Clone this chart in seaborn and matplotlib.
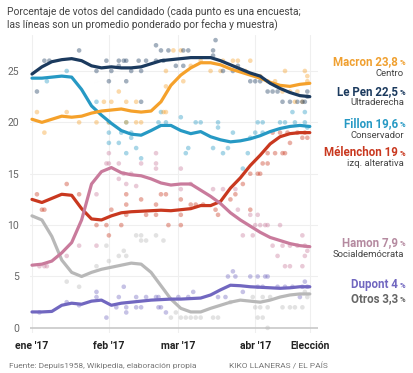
import pandas as pd
import matplotlib.pyplot as plt
import seaborn as sns

# -----------------------------
# Data (days since 1 Jan 2017, election = 23 Apr = day 112)
# -----------------------------
days = [0, 4, 8, 12, 16, 20, 24, 28, 32, 36, 40, 44, 48, 52, 56,
        60, 64, 68, 72, 76, 80, 84, 88, 92, 96, 100, 104, 108, 112]

lepen = [24.7, 25.4, 25.9, 26.1, 26.2, 26.0, 25.5, 25.3, 25.4, 25.3, 25.3, 25.4, 25.7, 26.0, 26.1,
         26.2, 26.3, 26.3, 26.3, 26.0, 25.6, 25.2, 24.8, 24.5, 23.8, 23.3, 22.9, 22.6, 22.5]
macron = [20.3, 20.0, 20.3, 20.6, 20.5, 20.6, 20.9, 21.1, 21.2, 21.3, 21.1, 21.0, 21.1, 22.0, 23.6,
          24.6, 25.3, 25.8, 25.8, 25.6, 25.2, 24.9, 24.6, 24.3, 23.9, 23.6, 23.5, 23.7, 23.8]
fillon = [24.3, 24.3, 24.4, 24.5, 24.4, 23.2, 21.6, 20.7, 19.9, 19.2, 18.85, 18.75, 19.2, 19.7, 19.7,
          19.2, 18.9, 19.1, 18.6, 18.3, 18.1, 18.2, 18.4, 18.7, 19.1, 19.4, 19.6, 19.7, 19.6]
melenchon = [12.5, 12.2, 12.6, 13.0, 12.9, 11.6, 10.6, 10.5, 10.9, 11.2, 11.3, 11.35, 11.4, 11.45, 11.4,
             11.5, 11.6, 11.9, 11.9, 12.3, 13.6, 14.6, 15.8, 16.8, 17.9, 18.6, 18.9, 19.0, 19.0]
hamon = [6.1, 6.2, 6.5, 7.3, 8.3, 10.5, 14.0, 15.2, 15.6, 15.1, 14.9, 14.8, 14.5, 14.1, 13.9,
         14.0, 14.0, 13.4, 12.8, 12.1, 11.2, 10.5, 9.9, 9.3, 8.8, 8.5, 8.2, 8.0, 7.9]
dupont = [1.55, 1.55, 1.6, 2.2, 2.4, 2.3, 2.6, 2.7, 2.2, 2.4, 2.5, 2.6, 2.7, 2.75, 2.8,
          2.8, 2.85, 2.9, 3.2, 3.7, 4.15, 4.1, 4.0, 3.95, 3.9, 3.85, 3.9, 4.0, 4.0]
otros = [10.9, 10.5, 8.9, 6.6, 5.4, 5.0, 5.4, 5.7, 5.9, 6.1, 6.3, 6.2, 5.4, 4.1, 2.8,
         1.9, 1.55, 1.55, 1.9, 2.2, 2.5, 2.7, 2.6, 2.5, 2.7, 3.0, 3.2, 3.3, 3.3]

# polls: (day, value)
polls_lepen = [(2, 23), (5, 26), (7, 26), (19, 27), (26, 25), (30, 26), (31, 24), (32, 25), (35, 25.5),
               (35, 26), (37, 26), (38, 24), (38, 26), (40, 25), (43, 26), (44, 22), (44, 25), (46, 26),
               (50, 27.5), (50, 26), (52, 27), (53, 26), (55, 27), (58, 25.5), (61, 25.5), (61, 27),
               (63, 27), (73, 27), (73, 26.5), (74, 28), (77, 25), (81, 25), (83, 25.5), (85, 25),
               (88, 24), (90, 24), (92, 24), (95, 23), (97, 23), (99, 23), (101, 22), (104, 22),
               (107, 22), (109, 22), (110, 22), (111, 23), (111, 22.5)]
polls_macron = [(2, 21), (5, 19), (14, 21), (19, 20), (26, 20), (29, 22), (31, 20), (32, 22), (35, 23),
                (38, 20), (38, 22), (42, 20), (42, 22), (44, 20), (53, 21), (54, 21), (54, 23.5),
                (54, 25), (57, 27), (60, 27), (61, 24), (64, 25.5), (68, 26), (72, 25), (76, 25),
                (77, 26), (81, 26), (83, 26), (86, 25), (88, 26), (92, 24.5), (95, 24), (98, 24),
                (101, 23), (102, 25), (104, 23), (106, 22), (107, 23), (109, 22), (110, 25),
                (111, 24.5), (111, 24)]
polls_fillon = [(6, 24), (14, 25), (26, 22), (31, 19), (31, 18), (31, 20), (35, 18), (36, 19), (38, 17),
                (38, 20), (40, 18.5), (40, 19), (42, 17.5), (44, 16.5), (51, 20), (52, 21), (54, 20),
                (60, 20.5), (62, 17), (63, 17.5), (66, 20), (68, 20), (73, 17.5), (75, 20), (75, 19.5),
                (77, 17), (79, 17.5), (81, 19), (85, 15.5), (87, 17), (88, 18.5), (90, 19), (91, 20),
                (93, 20), (93, 19), (100, 20), (102, 20), (105, 21), (106, 20), (110, 20), (110, 21),
                (111, 19.5)]
polls_melenchon = [(2, 13), (4, 11.5), (5, 11.5), (14, 14), (19, 13), (26, 10), (30, 10), (31, 9),
                   (32, 11.5), (36, 10), (38, 13), (38, 12), (38, 11), (44, 12.5), (46, 11), (50, 11),
                   (50, 12), (52, 13), (54, 13), (55, 10), (60, 12.5), (60, 11), (60, 10), (64, 12),
                   (66, 12), (69, 12), (74, 11.5), (75, 11), (80, 12.5), (82, 13), (85, 14), (88, 11.5),
                   (88, 15), (91, 15), (92, 15), (93, 16), (95, 16), (95, 17), (97, 19), (98, 17),
                   (100, 19), (101, 17), (102, 17), (103, 19), (104, 18), (107, 19), (109, 18.5),
                   (110, 19), (111, 18.5)]
polls_hamon = [(3, 6), (5, 6), (6, 6), (14, 7), (19, 8), (26, 8), (26, 13), (30, 16), (31, 16), (31, 17),
               (35, 16), (35, 14.5), (37, 15), (38, 14), (40, 15), (42, 13.8), (44, 16), (50, 16),
               (50, 17), (50, 15.5), (60, 15.5), (60, 13.5), (64, 14), (73, 13.5), (77, 13.5),
               (82, 13.5), (83, 11.5), (85, 9), (88, 11), (89, 9), (90, 10), (91, 11), (92, 10),
               (94, 10), (95, 10), (97, 8), (99, 7), (100, 10), (101, 8), (102, 6), (104, 6), (104, 8),
               (107, 8), (109, 6), (109, 9), (110, 8), (110, 7), (111, 7.5)]
polls_dupont = [(3, 1.5), (14, 2.5), (19, 2.2), (26, 3.5), (26, 3), (30, 1), (34, 2), (35, 3), (37, 4),
                (38, 2), (38, 1.5), (42, 3), (42, 2), (44, 2), (46, 3), (50, 3), (51, 3), (51, 2),
                (52, 2), (54, 1.5), (59, 3), (63, 3), (65, 3.5), (75, 3), (78, 3), (79, 5), (81, 5.5),
                (82, 5), (85, 3.5), (88, 5), (91, 5), (91, 4), (93, 4), (94, 5), (95, 5), (99, 4),
                (102, 4), (105, 4), (108, 3), (109, 4), (110, 4.5), (111, 4)]
polls_otros = [(14, 4.5), (19, 4), (26, 6), (30, 8), (31, 6.5), (35, 7), (37, 7.5), (38, 7), (42, 9),
               (44, 9), (44, 8.5), (46, 8.5), (50, 9), (53, 8.5), (56, 1), (58, 1.5), (60, 1), (62, 1),
               (64, 1), (66, 1), (68, 1), (73, 1), (75, 1), (80, 2.5), (89, 3), (90, 2), (91, 1),
               (92, 2), (93, 1), (93, 3), (95, 2), (95, 0), (96, 3), (101, 2), (104, 2), (106, 2),
               (109, 2), (110, 3.5), (111, 3)]

month_ticks = [0, 31, 59, 90, 112]
month_labels = ["ene '17", "feb '17", "mar '17", "abr '17", "Elección"]

candidates = ["Otros", "Dupont", "Mélenchon", "Hamon", "Fillon", "Macron", "Le Pen"]
palette = {
    "Le Pen": "#1b3a5e",
    "Macron": "#f5a12b",
    "Fillon": "#2699c4",
    "Mélenchon": "#c9381f",
    "Hamon": "#c97b9c",
    "Dupont": "#7167c0",
    "Otros": "#b8b8b8",
}

lines = {"Le Pen": lepen, "Macron": macron, "Fillon": fillon, "Mélenchon": melenchon,
         "Hamon": hamon, "Dupont": dupont, "Otros": otros}
polls = {"Le Pen": polls_lepen, "Macron": polls_macron, "Fillon": polls_fillon,
         "Mélenchon": polls_melenchon, "Hamon": polls_hamon, "Dupont": polls_dupont,
         "Otros": polls_otros}

line_df = pd.concat([pd.DataFrame({"day": days, "value": lines[c], "cand": c}) for c in candidates])
poll_df = pd.concat([pd.DataFrame(polls[c], columns=["day", "value"]).assign(cand=c) for c in candidates])

# -----------------------------
# Plot
# -----------------------------
sns.set_style("white")
plt.rcParams["font.family"] = ["Roboto", "DejaVu Sans"]

W, H = 414, 373
fig = plt.figure(figsize=(W / 100, H / 100), dpi=100)
ax = fig.add_axes([30 / W, 1 - 333 / H, 288 / W, 298 / H])

sns.scatterplot(data=poll_df, x="day", y="value", hue="cand", palette=palette,
                hue_order=candidates, s=11, alpha=0.4, linewidth=0, legend=False, ax=ax)
for c in candidates:
    sns.lineplot(data=line_df[line_df["cand"] == c], x="day", y="value", color=palette[c],
                 linewidth=2.3, ax=ax, legend=False)

ax.set_xlim(-0.8, 115.3)
ax.set_ylim(-0.5, 28.5)
for s in ax.spines.values():
    s.set_visible(False)
for v in [5, 10, 15, 20, 25]:
    ax.axhline(v, color="#efefef", lw=0.8, zorder=0)
for d in month_ticks:
    ax.axvline(d, color="#efefef", lw=0.8, zorder=0)
ax.axhline(0, color="#c8c8c8", lw=1.2, zorder=0)

ax.set_yticks([0, 5, 10, 15, 20, 25])
ax.set_xticks(month_ticks)
ax.set_xticklabels(month_labels, fontweight="semibold")
ax.tick_params(axis="y", length=0, pad=8, labelsize=7.5, labelcolor="#666666")
ax.tick_params(axis="x", length=0, pad=6, labelsize=7.5, labelcolor="#222222")
ax.set_xlabel("")
ax.set_ylabel("")

# title
fig.text(7 / W, 1 - 12 / H, "Porcentaje de votos del candidado (cada punto es una encuesta;",
         fontsize=7.4, color="#444444", va="center")
fig.text(7 / W, 1 - 25 / H, "las líneas son un promedio ponderado por fecha y muestra)",
         fontsize=7.4, color="#444444", va="center")

# right labels
labels = [
    ("Macron 23,8", "Centro", 65, 75.7, "#f0a030"),
    ("Le Pen 22,5", "Ultraderecha", 95, 105, "#1b3a5e"),
    ("Fillon 19,6", "Conservador", 127.3, 138.3, "#2699c4"),
    ("Mélenchon 19", "izq. alterativa", 156, 166, "#c9381f"),
    ("Hamon 7,9", "Socialdemócrata", 245.7, 257.3, "#b58aa0"),
    ("Dupont 4", None, 288.3, None, "#7167c0"),
    ("Otros 3,3", None, 301.7, None, "#666666"),
]
for main, sub, yb, ys, col in labels:
    fig.text(405 / W, 1 - yb / H, "%", fontsize=5.5, fontweight="bold", color=col,
             ha="right", va="baseline")
    fig.text(398 / W, 1 - yb / H, main, fontsize=8.3, fontweight="bold", color=col,
             ha="right", va="baseline")
    if sub:
        fig.text(404 / W, 1 - ys / H, sub, fontsize=6.8, color="#444444", ha="right", va="baseline")

# footer
fig.text(9 / W, 1 - 366 / H, "Fuente: Depuis1958, Wikipedia, elaboración propia",
         fontsize=6, color="#777777", va="center")
fig.text(328 / W, 1 - 366 / H, "KIKO LLANERAS / EL PAÍS", fontsize=6, color="#777777",
         ha="right", va="center")

fig.savefig("out.png", dpi=100)
